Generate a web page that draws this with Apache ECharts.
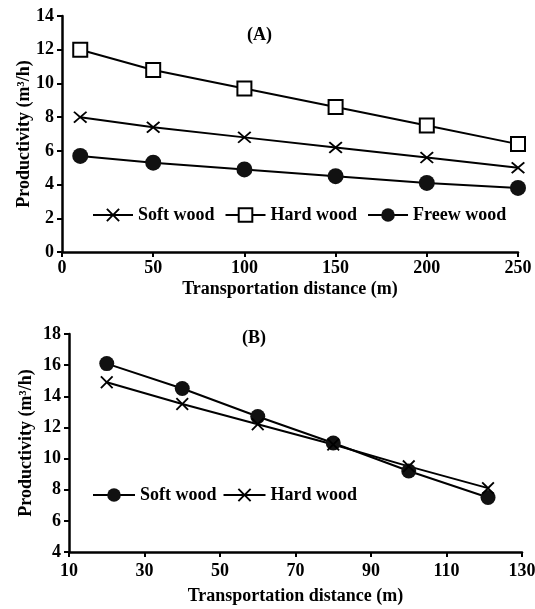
<!DOCTYPE html>
<html>
<head>
<meta charset="utf-8">
<script src="https://cdn.jsdelivr.net/npm/echarts@6/dist/echarts.min.js"></script>
<style>
  html, body { margin: 0; padding: 0; background: #fff; }
  #chartA { width: 535px; height: 300px; }
  #chartB { width: 535px; height: 309px; }
</style>
</head>
<body>
<div id="chartA"></div>
<div id="chartB"></div>
<script>
// (A) productivity vs distance, three wood types
let distA = [10, 50, 100, 150, 200, 250];
let softA = [8.0, 7.4, 6.8, 6.2, 5.6, 5.0];
let hardA = [12.0, 10.8, 9.7, 8.6, 7.5, 6.4];
let freewA = [5.7, 5.3, 4.9, 4.5, 4.1, 3.8];

// (B) productivity vs distance, two wood types
let distB = [20, 40, 60, 80, 100, 121];
let softB = [16.1, 14.5, 12.7, 11.0, 9.2, 7.5];
let hardB = [14.9, 13.5, 12.2, 10.9, 9.5, 8.1];

let fontFam = 'Liberation Serif';
let crossPath = 'path://M1,0L5,4L9,0L10,1L6,5L10,9L9,10L5,6L1,10L0,9L4,5L0,1Z';

function pairs(xs, ys){
	return xs.map((x, i) => [x, ys[i]]);
}

function axisBase(min, max, interval, name, nameGap, margin){
	return {
		type: 'value',
		min: min,
		max: max,
		interval: interval,
		name: name,
		nameLocation: 'middle',
		nameGap: nameGap,
		nameMoveOverlap: false,
		nameTextStyle: { color: '#000', fontFamily: fontFam, fontSize: 18, fontWeight: 'bold' },
		axisLine: { show: true, lineStyle: { color: '#000', width: 2.5 } },
		axisTick: { show: true, inside: false, length: 5, lineStyle: { color: '#000', width: 2 } },
		axisLabel: { color: '#000', fontFamily: fontFam, fontSize: 18, fontWeight: 'bold', margin: margin },
		splitLine: { show: false }
	};
}

function lineSeries(name, data, symbol, size, fill){
	return {
		name: name,
		type: 'line',
		data: data,
		symbol: symbol,
		symbolSize: size,
		showAllSymbol: true,
		lineStyle: { color: '#000', width: 2 },
		itemStyle: { color: fill, borderColor: '#000', borderWidth: symbol === 'rect' ? 2 : 0 },
		emphasis: { disabled: true },
		z: 3
	};
}

let legendText = { color: '#000', fontFamily: fontFam, fontSize: 18, fontWeight: 'bold' };

var chartA = echarts.init(document.getElementById('chartA'));
chartA.setOption({
	animation: false,
	grid: { left: 62, top: 16, right: 17, bottom: 48, outerBoundsMode: 'none' },
	xAxis: axisBase(0, 250, 50, 'Transportation distance (m)', 28, 7),
	yAxis: axisBase(0, 14, 2, 'Productivity (m³/h)', 29, 8),
	legend: {
		left: 92, top: 206, padding: 0,
		itemWidth: 40, itemHeight: 17, itemGap: 10,
		textStyle: legendText,
		data: ['Soft wood', 'Hard wood', 'Freew wood']
	},
	graphic: [{
		type: 'text', left: 247, top: 26,
		style: { text: '(A)', font: 'bold 18px "Liberation Serif"', fill: '#000' }
	}],
	series: [
		lineSeries('Soft wood', pairs(distA, softA), crossPath, [14, 12], '#000'),
		lineSeries('Hard wood', pairs(distA, hardA), 'rect', 14, '#fff'),
		lineSeries('Freew wood', pairs(distA, freewA), 'circle', 16, '#111')
	]
});

var chartB = echarts.init(document.getElementById('chartB'));
chartB.setOption({
	animation: false,
	grid: { left: 69, top: 34, right: 13, bottom: 57, outerBoundsMode: 'none' },
	xAxis: axisBase(10, 130, 20, 'Transportation distance (m)', 35, 10),
	yAxis: axisBase(4, 18, 2, 'Productivity (m³/h)', 34, 8),
	legend: {
		left: 92, top: 186, padding: 0,
		itemWidth: 42, itemHeight: 17, itemGap: 6,
		textStyle: legendText,
		data: ['Soft wood', 'Hard wood']
	},
	graphic: [{
		type: 'text', left: 242, top: 29,
		style: { text: '(B)', font: 'bold 18px "Liberation Serif"', fill: '#000' }
	}],
	series: [
		lineSeries('Soft wood', pairs(distB, softB), 'circle', 15, '#111'),
		lineSeries('Hard wood', pairs(distB, hardB), crossPath, 13, '#000')
	]
});
</script>
</body>
</html>
